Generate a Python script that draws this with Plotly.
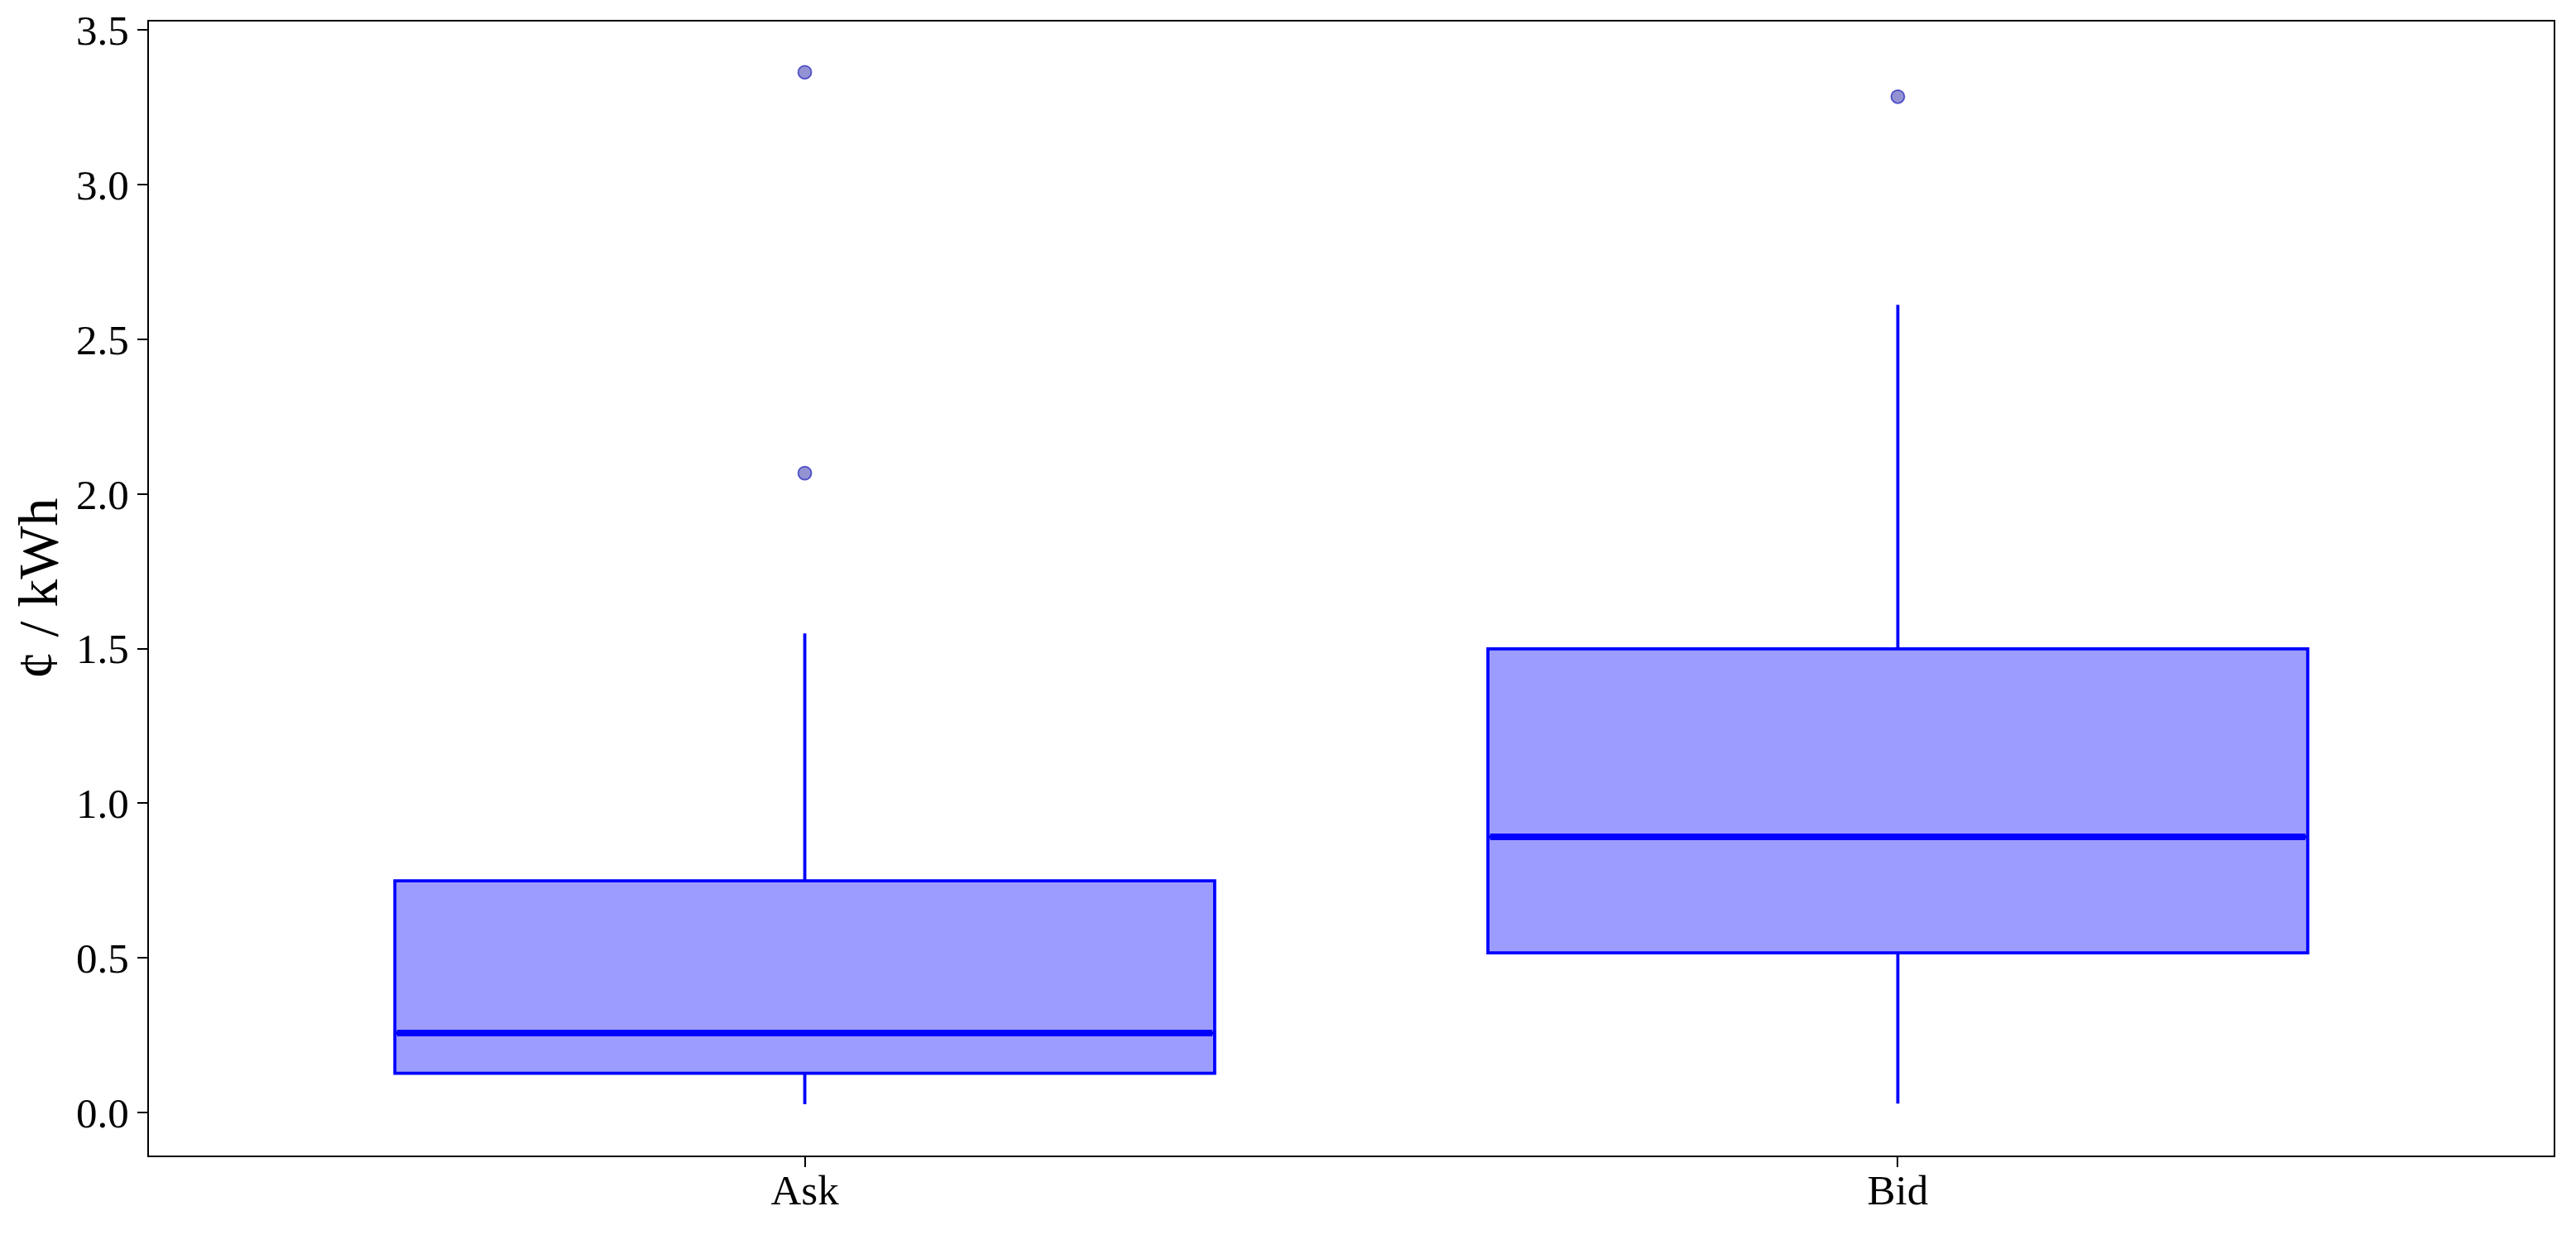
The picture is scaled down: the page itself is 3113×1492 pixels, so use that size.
import plotly.graph_objects as go

categories = ["Ask", "Bid"]
positions = [0, 1]
q1 = [0.127, 0.516]
median = [0.257, 0.891]
q3 = [0.749, 1.499]
lower_whisker = [0.027, 0.029]
upper_whisker = [1.549, 2.611]
outlier_cat = [0, 0, 1]
outlier_val = [3.363, 2.067, 3.284]

box_width = 0.75
FONT = "Liberation Serif"

fig = go.Figure()
fig.add_trace(go.Box(
    x=positions, q1=q1, median=median, q3=q3,
    lowerfence=lower_whisker, upperfence=upper_whisker,
    width=box_width, whiskerwidth=0,
    fillcolor="#9c9cff", line=dict(color="#0000ff", width=3.8),
    boxpoints=False, showlegend=False, hoverinfo="skip",
))
# thicker median lines
for p, m in zip(positions, median):
    fig.add_trace(go.Scatter(
        x=[p - box_width / 2 + 0.002, p + box_width / 2 - 0.002], y=[m, m],
        mode="lines", line=dict(color="#0000ff", width=8),
        showlegend=False, hoverinfo="skip",
    ))
fig.add_trace(go.Scatter(
    x=outlier_cat, y=outlier_val, mode="markers",
    marker=dict(size=16, color="rgba(40,40,170,0.5)",
                line=dict(color="rgba(30,30,190,0.7)", width=1.8)),
    showlegend=False, hoverinfo="skip",
))

axis_common = dict(
    showline=True, linecolor="black", linewidth=2, mirror=True,
    ticks="outside", ticklen=12, tickwidth=2, tickcolor="black",
    showgrid=False, zeroline=False, automargin=False,
    tickfont=dict(family=FONT, size=51, color="black"),
)
fig.update_xaxes(range=[-0.6, 1.6], tickvals=positions, ticktext=categories,
                 ticklabelstandoff=-16, **axis_common)
fig.update_yaxes(range=[-0.139, 3.527], tickvals=[0, 0.5, 1.0, 1.5, 2.0, 2.5, 3.0, 3.5],
                 ticktext=["0.0", "0.5", "1.0", "1.5", "2.0", "2.5", "3.0", "3.5"],
                 title=dict(text="¢ / kWh", font=dict(family=FONT, size=68, color="black"), standoff=26),
                 **axis_common)
fig.update_layout(
    width=3105, height=1484,
    margin=dict(l=172, r=27, t=18, b=96),
    plot_bgcolor="white", paper_bgcolor="white",
)
fig.write_html("out.html")
